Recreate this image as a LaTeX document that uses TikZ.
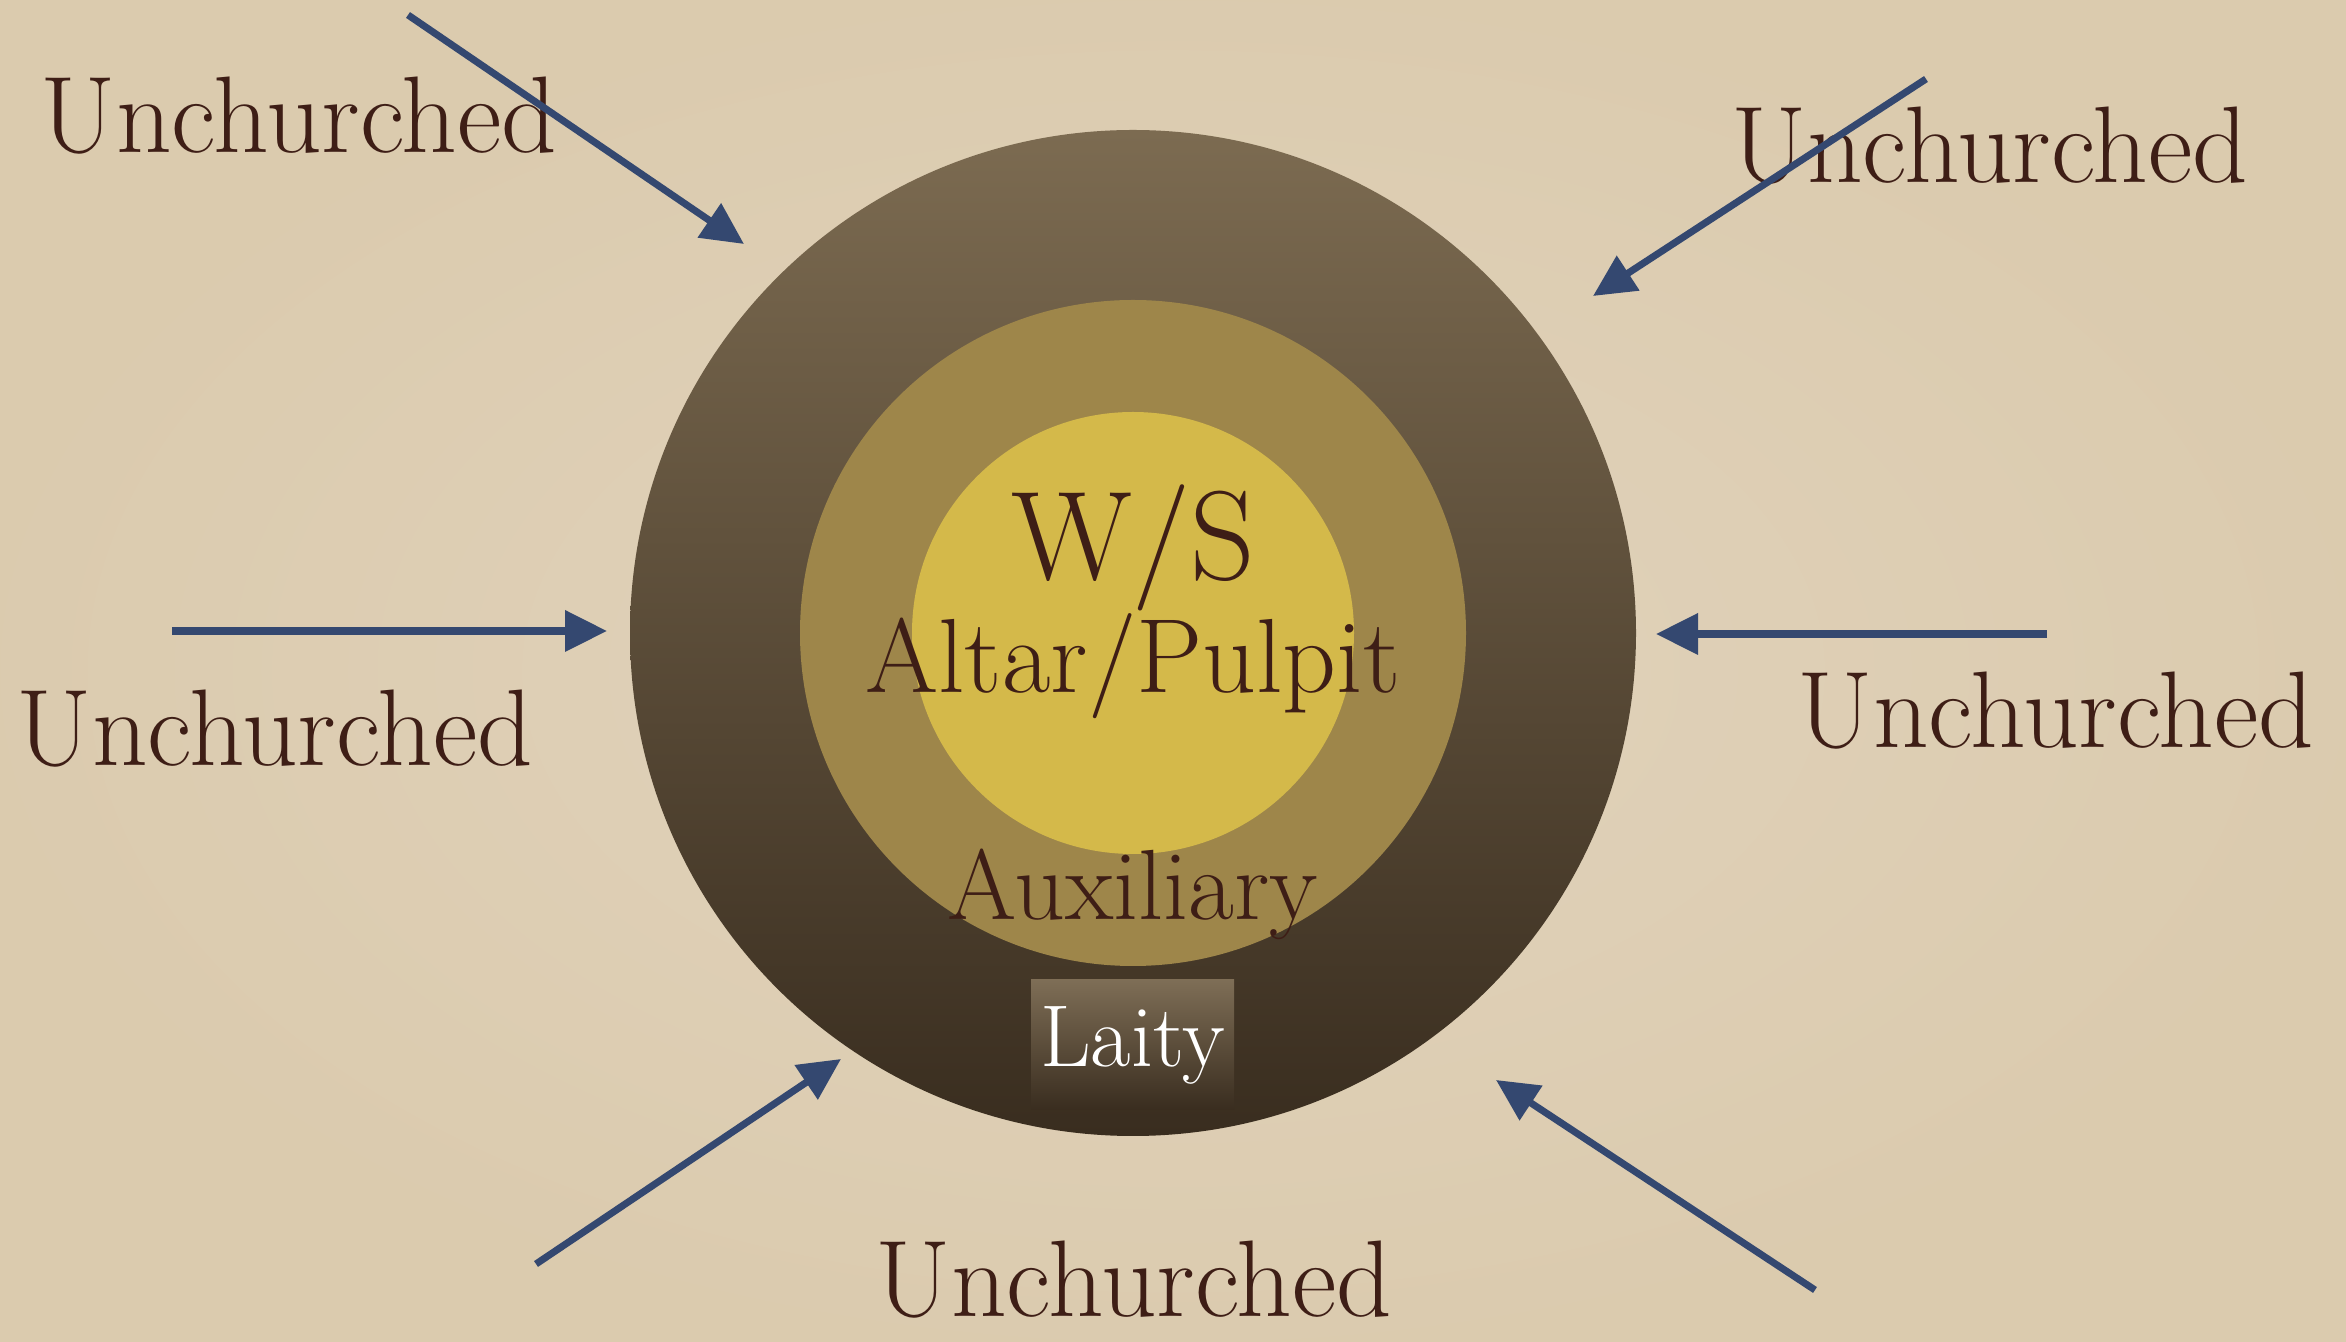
\documentclass[tikz,border=0pt]{standalone}
\usepackage{tikz}
\usetikzlibrary{arrows.meta,calc}
\definecolor{parchment}{RGB}{225,211,188}
\definecolor{parchmentdark}{RGB}{212,193,158}
\definecolor{inkbrown}{RGB}{62,30,22}
\definecolor{arrowblue}{RGB}{52,72,112}
\definecolor{ringtop}{RGB}{124,107,81}
\definecolor{ringbottom}{RGB}{57,45,31}
\definecolor{olivegold}{RGB}{158,134,74}
\definecolor{altargold}{RGB}{212,185,74}
\definecolor{laitytop}{RGB}{126,110,86}
\newcommand{\inkfont}[1]{\fontsize{#1}{#1}\selectfont}

\begin{document}
\begin{tikzpicture}[
    inktext/.style={text=inkbrown,anchor=base,inner sep=0pt},
    inarrow/.style={arrowblue,line width=2pt,-{Triangle[length=4.2mm,width=4mm]}}
  ]
  % Background
  \useasboundingbox (0,0) rectangle (23.46,13.42);
  \shade[inner color=parchment,outer color=parchment!55!parchmentdark] (0,0) rectangle (23.46,13.42);
  % Rings
  \coordinate (c) at (11.33,7.09);
  \shade[top color=ringtop,bottom color=ringbottom] (c) circle (5.03);
  \fill[olivegold] (c) circle (3.33);
  \fill[altargold] (c) circle (2.21);
  % Ring labels
  \node[inktext,font=\inkfont{36}] (ws) at (11.33,7.62) {W/S};
  \node[inktext,font=\inkfont{30}] (altar) at (11.33,6.49) {Altar/Pulpit};
  \node[inktext,font=\inkfont{28.4}] (aux) at (11.33,4.22) {Auxiliary};
  \node[top color=laitytop,bottom color=ringbottom,text=white,font=\inkfont{25},
    minimum width=2.03cm,minimum height=1.3cm,inner sep=0pt] (laity) at (11.325,2.97) {Laity};
  % Unchurched labels
  \foreach \n/\x/\y in {u1/2.99/11.89,u2/19.90/11.59,u3/2.75/5.76,u4/20.56/5.94,u5/11.34/0.25}{
    \node[inktext,font=\inkfont{31}] (\n) at (\x,\y) {Unchurched};
  }
  % Arrows pointing in
  \foreach \n/\xa/\ya/\xb/\yb in {a1/4.08/13.27/7.44/10.98,a2/19.26/12.63/15.93/10.46,
      a3/1.72/7.11/6.07/7.11,a4/20.47/7.08/16.56/7.08,
      a5/5.36/0.78/8.41/2.83,a6/18.15/0.52/14.96/2.62}{
    \coordinate (\n s) at (\xa,\ya);
    \coordinate (\n e) at (\xb,\yb);
    \draw[inarrow] (\n s) -- (\n e);
  }
\end{tikzpicture}
\end{document}
